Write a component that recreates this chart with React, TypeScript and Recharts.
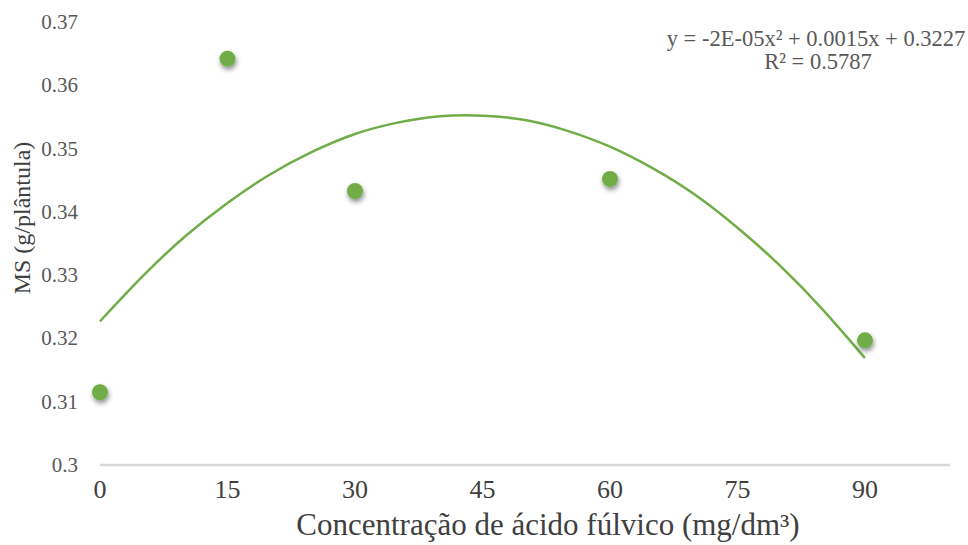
import React from 'react';
import { ComposedChart, Line, Scatter, XAxis, YAxis } from 'recharts';

const concentrations = [0, 15, 30, 60, 90];
const msValues = [0.3115, 0.3642, 0.3433, 0.3452, 0.3197];

const trendX = [0, 5, 10, 15, 20, 25, 30, 35, 40, 45, 50, 55, 60, 65, 70, 75, 80, 85, 90];
const trendY = [0.3227, 0.3298, 0.3361, 0.3414, 0.3459, 0.3495, 0.3523, 0.3541, 0.3551, 0.3552, 0.3545, 0.3528, 0.3503, 0.3469, 0.3427, 0.3375, 0.3315, 0.3246, 0.3169];

const xTicks = [0, 15, 30, 45, 60, 75, 90];
const yTicks = [0.3, 0.31, 0.32, 0.33, 0.34, 0.35, 0.36, 0.37];

const points = concentrations.map((x, i) => ({ x, y: msValues[i] }));
const trend = trendX.map((x, i) => ({ x, t: trendY[i] }));

const GREEN = '#70AD47';
const FONT = '"Liberation Serif", "Times New Roman", serif';

const Dot = (props: any) => {
  const { cx, cy } = props;
  return <circle cx={cx} cy={cy} r={8} fill={GREEN} filter="url(#dotShadow)" />;
};

const fmtY = (v: number) => (v === 0.3 ? '0.3' : v.toFixed(2));

const XTick = (props: any) => {
  const { x, y, payload } = props;
  return (
    <text x={x} y={y + 31} textAnchor="middle" style={{ fontFamily: FONT, fontSize: 26, fill: '#404040' }}>
      {payload.value}
    </text>
  );
};

const YTick = (props: any) => {
  const { x, y, payload } = props;
  return (
    <text x={x - 20} y={y + 7} textAnchor="end" style={{ fontFamily: FONT, fontSize: 21, fill: '#595959' }}>
      {fmtY(payload.value)}
    </text>
  );
};

export default function App() {
  return (
    <div style={{ position: 'absolute', left: 0, top: 0, background: '#fff', fontFamily: FONT }}>
      <ComposedChart width={968} height={545} margin={{ top: 22, right: 18, bottom: 0, left: 0 }}>
        <defs>
          <filter id="dotShadow" x="-100%" y="-100%" width="300%" height="300%">
            <feDropShadow dx="1" dy="3" stdDeviation="2.5" floodColor="#000" floodOpacity="0.45" />
          </filter>
        </defs>
        <XAxis
          type="number"
          dataKey="x"
          domain={[0, 100]}
          ticks={xTicks}
          allowDuplicatedCategory={false}
          height={80}
          axisLine={{ stroke: '#d9d9d9', strokeWidth: 2.5 }}
          tickLine={false}
          tickSize={0}
          tick={<XTick />}
        />
        <YAxis
          type="number"
          domain={[0.3, 0.37]}
          ticks={yTicks}
          width={100}
          axisLine={false}
          tickLine={false}
          tickSize={0}
          tick={<YTick />}
        />
        <Line
          data={trend}
          dataKey="t"
          type="natural"
          stroke={GREEN}
          strokeWidth={2.5}
          dot={false}
          activeDot={false}
          isAnimationActive={false}
        />
        <Scatter data={points} dataKey="y" shape={<Dot />} isAnimationActive={false} />
        <text x={816} y={46} textAnchor="middle" style={{ fontFamily: FONT, fontSize: 22.5, fill: '#595959' }}>
          y = -2E-05x² + 0.0015x + 0.3227
        </text>
        <text x={818} y={69} textAnchor="middle" style={{ fontFamily: FONT, fontSize: 22.5, fill: '#595959' }}>
          R² = 0.5787
        </text>
        <text x={548} y={535} textAnchor="middle" style={{ fontFamily: FONT, fontSize: 31, fill: '#404040' }}>
          Concentração de ácido fúlvico (mg/dm³)
        </text>
        <text
          x={30}
          y={218}
          textAnchor="middle"
          transform="rotate(-90 30 218)"
          style={{ fontFamily: FONT, fontSize: 24, fill: '#404040' }}
        >
          MS (g/plântula)
        </text>
      </ComposedChart>
    </div>
  );
}
